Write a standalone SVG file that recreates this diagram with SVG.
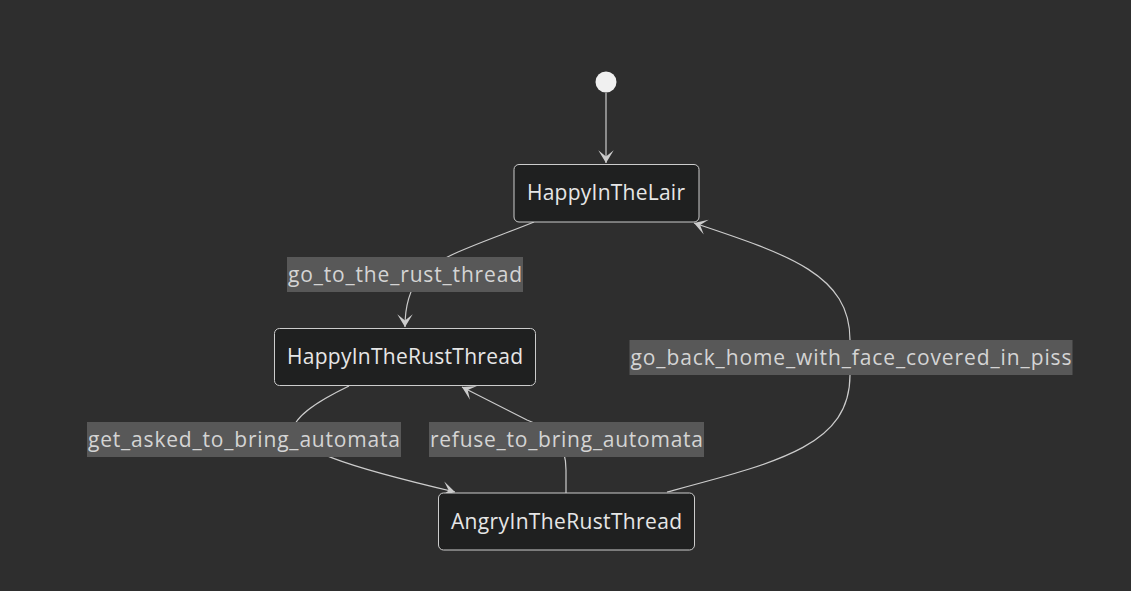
<svg xmlns="http://www.w3.org/2000/svg" width="1131" height="591" viewBox="0 0 1131 591">
<style>
.bg{fill:#2e2e2e}
.node rect{fill:#1f2020;stroke:#cccccc;stroke-width:1}
.node text{fill:#e6e6e6;font-family:"Open Sans","Liberation Sans",sans-serif;font-size:21px;text-anchor:middle}
.edge{fill:none;stroke:#cccccc;stroke-width:1.2}
.lbl rect{fill:#585858}
.lbl text{fill:#d4d4d4;font-family:"Open Sans","Liberation Sans",sans-serif;font-size:21px;text-anchor:middle}
</style>
<defs>
<marker id="barb" viewBox="0 0 20 14" markerWidth="26" markerHeight="18" refX="19" refY="7" orient="auto" markerUnits="userSpaceOnUse">
<path d="M19,7 L9,13 L14,7 L9,1 Z" fill="#cccccc"/>
</marker>
</defs>
<rect class="bg" x="0" y="0" width="1131" height="591"/>
<g id="connectors">
<path class="edge" d="M606,93 L606,163" marker-end="url(#barb)"/>
<path class="edge" d="M534,222 C490,240 440,255 420,275 C410,290 405,305 405,327" marker-end="url(#barb)"/>
<path class="edge" d="M349,386 C320,400 295,415 293,430 C300,450 340,465 455,492" marker-end="url(#barb)"/>
<path class="edge" d="M566,493 L566,470 C566,445 555,430 527,420 L462,387" marker-end="url(#barb)"/>
<path class="edge" d="M667,492 C780,462 850,445 850,375 L850,340 C850,275 790,255 694,223" marker-end="url(#barb)"/>
</g>
<g id="labels">
<g class="lbl" id="lbl-go-to"><rect x="287" y="257" width="236" height="35"/><text x="405" y="282" textLength="234" lengthAdjust="spacing">go_to_the_rust_thread</text></g>
<g class="lbl" id="lbl-asked"><rect x="87" y="422" width="314" height="35"/><text x="244" y="447" textLength="312" lengthAdjust="spacing">get_asked_to_bring_automata</text></g>
<g class="lbl" id="lbl-refuse"><rect x="429" y="422" width="275" height="35"/><text x="566.5" y="447" textLength="273" lengthAdjust="spacing">refuse_to_bring_automata</text></g>
<g class="lbl" id="lbl-home"><rect x="629.5" y="340" width="443" height="35"/><text x="851" y="365" textLength="441" lengthAdjust="spacing">go_back_home_with_face_covered_in_piss</text></g>
</g>
<g id="start"><circle cx="606" cy="82" r="10.5" fill="#f0f0f0"/></g>
<g class="node" id="HappyInTheLair"><rect x="514" y="164.5" width="185" height="57.5" rx="5"/><text x="606" y="200" textLength="158" lengthAdjust="spacing">HappyInTheLair</text></g>
<g class="node" id="HappyInTheRustThread"><rect x="274.5" y="328.5" width="261" height="57" rx="5"/><text x="405" y="364" textLength="236" lengthAdjust="spacing">HappyInTheRustThread</text></g>
<g class="node" id="AngryInTheRustThread"><rect x="438.5" y="493" width="256" height="57" rx="5"/><text x="566.5" y="529" textLength="231" lengthAdjust="spacing">AngryInTheRustThread</text></g>
</svg>
